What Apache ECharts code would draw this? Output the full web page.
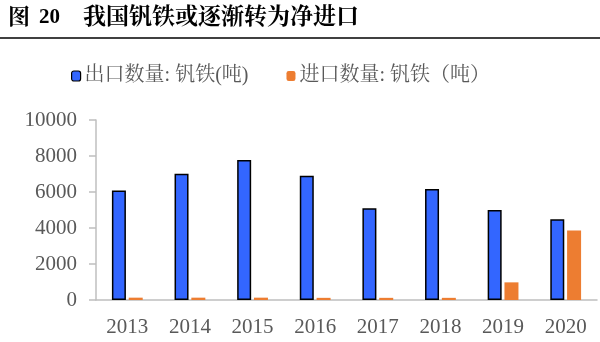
<!DOCTYPE html>
<html><head><meta charset="utf-8">
<script src="https://cdn.jsdelivr.net/npm/echarts@6/dist/echarts.min.js"></script>
<style>html,body{margin:0;padding:0;background:#fff}#c{width:600px;height:342px}</style>
</head><body><div id="c"></div>
<script>
const categories = ['2013','2014','2015','2016','2017','2018','2019','2020'];
const exportValues = [6080, 7020, 7780, 6900, 5100, 6160, 5000, 4480];
const importValues = [130, 130, 130, 120, 120, 120, 980, 3860];
const yTicks = {min: 0, max: 10000, interval: 2000};
const seriesNames = ['出口数量: 钒铁(吨)', '进口数量: 钒铁（吨）'];
const titleParts = ['图', '20', '我国钒铁或逐渐转为净进口'];

const serif = '"Liberation Serif", "Times New Roman", "Noto Serif CJK SC", "Noto Sans CJK SC", serif';
const chart = echarts.init(document.getElementById('c'), null, {renderer: 'canvas'});
const tStyle = {font: 'bold 22px ' + serif, fill: '#000', textVerticalAlign: 'middle'};
chart.setOption({
  animation: false,
  backgroundColor: '#fff',
  graphic: [
    {type: 'text', x: 8, y: 18, style: Object.assign({text: titleParts[0]}, tStyle)},
    {type: 'text', x: 39, y: 18, style: Object.assign({text: titleParts[1]}, tStyle, {font: 'bold 21px ' + serif})},
    {type: 'text', x: 83, y: 18, style: Object.assign({text: titleParts[2]}, tStyle, {font: 'bold 23px ' + serif})},
    {type: 'line', shape: {x1: 0, y1: 38, x2: 600, y2: 38},
     style: {stroke: '#404040', lineWidth: 2}}
  ],
  legend: {
    top: 61, left: 66, itemWidth: 9, itemHeight: 10, itemGap: 38,
    textStyle: {fontFamily: serif, fontSize: 20, color: '#595959', padding: [0,0,0,-1]},
    data: [
      {name: seriesNames[0], itemStyle: {color: '#3366FF', borderColor: '#000', borderWidth: 1.2}},
      {name: seriesNames[1], itemStyle: {color: '#ED7D31', borderWidth: 0}}
    ]
  },
  grid: {left: 96, right: 3, top: 120, bottom: 42, containLabel: false},
  xAxis: {
    type: 'category', data: categories,
    axisLine: {lineStyle: {color: '#BFBFBF', width: 1.5}},
    axisTick: {show: false},
    axisLabel: {fontFamily: serif, fontSize: 21, color: '#595959', margin: 17}
  },
  yAxis: {
    type: 'value', min: yTicks.min, max: yTicks.max, interval: yTicks.interval,
    axisLine: {show: true, lineStyle: {color: '#BFBFBF', width: 1.5}},
    axisTick: {show: true, length: 7, lineStyle: {color: '#BFBFBF', width: 1.5}},
    splitLine: {show: false},
    axisLabel: {fontFamily: serif, fontSize: 21, color: '#595959', margin: 19,
                formatter: v => String(v)}
  },
  series: [
    {name: seriesNames[0], type: 'bar', data: exportValues, barWidth: 14, barGap: '20%',
     itemStyle: {color: '#3366FF', borderColor: '#000', borderWidth: 1.5}},
    {name: seriesNames[1], type: 'bar', data: importValues, barWidth: 14, barGap: '20%',
     itemStyle: {color: '#ED7D31'}}
  ]
});
</script></body></html>
